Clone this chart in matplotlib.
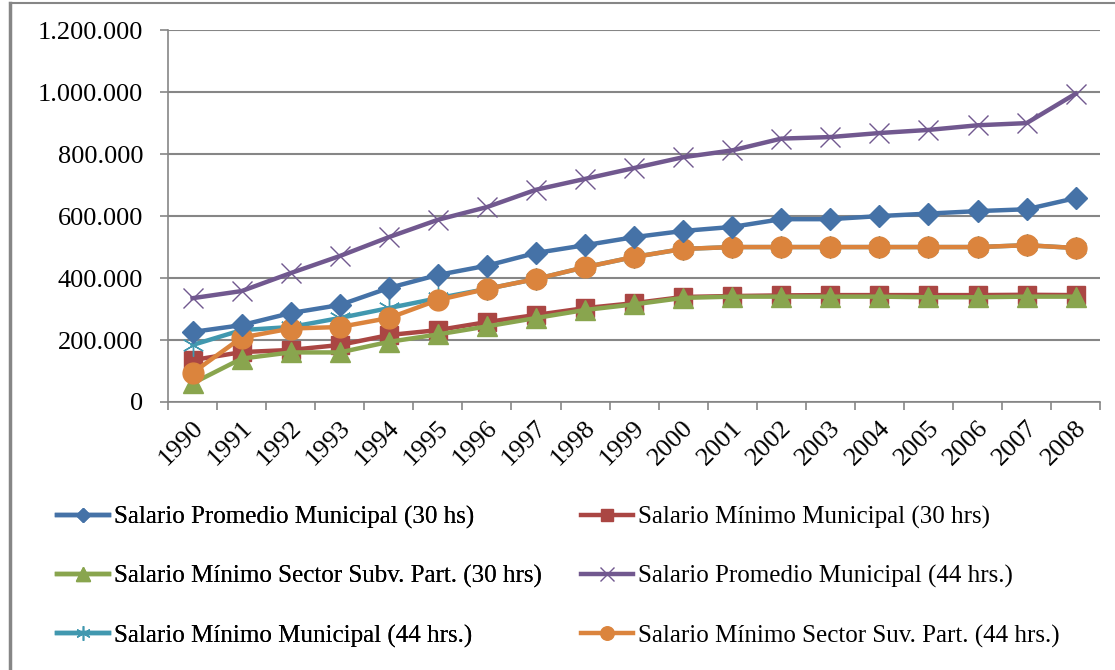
import matplotlib
matplotlib.use("Agg")
import matplotlib.pyplot as plt
from matplotlib.lines import Line2D
from matplotlib.ticker import FuncFormatter, FixedLocator
from matplotlib.transforms import ScaledTranslation

plt.rcParams['font.family'] = ['Liberation Serif', 'DejaVu Serif']

years = [str(y) for y in range(1990, 2009)]

prom_mun_30 = [226000, 248000, 287000, 313000, 368000, 410000, 440000, 481000, 506000, 532000,
               552000, 565000, 590000, 590000, 600000, 608000, 616000, 622000, 658000]
min_mun_30 = [135000, 161000, 168000, 184000, 216000, 232000, 258000, 281000, 303000, 319000,
              339000, 342000, 344000, 345000, 345000, 345000, 345000, 346000, 345000]
min_subv_30 = [60000, 140000, 160000, 160000, 194000, 218000, 244000, 271000, 297000, 315000,
               336000, 340000, 340000, 340000, 340000, 338000, 338000, 340000, 340000]
prom_mun_44 = [335000, 358000, 416000, 471000, 532000, 588000, 629000, 685000, 720000, 755000,
               790000, 812000, 850000, 855000, 868000, 878000, 893000, 900000, 995000]
min_mun_44 = [184000, 232000, 242000, 271000, 303000, 335000, 365000, 397000, 435000, 468000,
              494000, 500000, 500000, 500000, 500000, 500000, 500000, 506000, 497000]
min_suv_44 = [94000, 208000, 237000, 242000, 271000, 329000, 365000, 397000, 435000, 468000,
              494000, 500000, 500000, 500000, 500000, 500000, 500000, 506000, 497000]

labels = ["Salario Promedio Municipal (30 hs)",
          "Salario Mínimo Municipal (30 hrs)",
          "Salario Mínimo Sector Subv. Part. (30 hrs)",
          "Salario Promedio Municipal (44 hrs.)",
          "Salario Mínimo Municipal (44 hrs.)",
          "Salario Mínimo Sector Suv. Part. (44 hrs.)"]

fig = plt.figure(figsize=(11.15, 6.7), dpi=100)
ax = fig.add_axes([0.1507, 0.40, 0.836, 0.555])

x = list(range(len(years)))
lw = 3.2
h1, = ax.plot(x, prom_mun_30, color='#4572A7', lw=lw, marker='D', ms=11, zorder=5)
h2, = ax.plot(x, min_mun_30, color='#AA4643', lw=lw, marker='s', ms=13.5, zorder=3)
h3, = ax.plot(x, min_subv_30, color='#89A54E', lw=lw, marker='^', ms=15, zorder=4)
h4, = ax.plot(x, prom_mun_44, color='#71588F', lw=lw, marker='x', ms=15, mew=1, zorder=5)
h5, = ax.plot(x, min_mun_44, color='#4198AF', lw=lw, marker=(6, 2, 0), ms=16, mew=1, zorder=3)
h6, = ax.plot(x, min_suv_44, color='#DB843D', lw=lw, marker='o', ms=15, zorder=4)

ax.set_xlim(-0.5, len(years) - 0.5)
ax.set_ylim(0, 1200000)
ax.yaxis.set_major_locator(FixedLocator(range(0, 1200001, 200000)))
ax.yaxis.set_major_formatter(FuncFormatter(lambda v, p: f"{int(v):,}".replace(",", ".")))
ax.grid(axis='y', color='#868686', lw=1.5)
ax.set_axisbelow(True)

ax.set_xticks(x)
ax.set_xticklabels(years, rotation=45, ha='right', va='center', rotation_mode='anchor')
ax.set_xticks([i - 0.5 for i in range(len(years) + 1)], minor=True)
ax.tick_params(axis='x', which='major', length=0, pad=16, labelsize=19)
ax.tick_params(axis='x', which='minor', length=6, color='#868686', width=1.2)
ax.tick_params(axis='y', length=6, color='#868686', width=1.2, pad=12, labelsize=19)
shift = ScaledTranslation(0.07, 0, fig.dpi_scale_trans)
for t in ax.get_xticklabels():
    t.set_transform(t.get_transform() + shift)

for s in ['top', 'right']:
    ax.spines[s].set_visible(False)
for s in ['left', 'bottom']:
    ax.spines[s].set_color('#868686')
    ax.spines[s].set_linewidth(1.2)

handles = [h1, h2, h3, h4, h5, h6]
leg_kw = dict(frameon=False, loc='upper left', fontsize=18, handlelength=2.1,
              handletextpad=0.2, labelspacing=1.45, borderpad=0, borderaxespad=0,
              markerscale=0.65)
leg1 = fig.legend(handles[0::2], labels[0::2], bbox_to_anchor=(0.051, 0.245), **leg_kw)
fig.legend(handles[1::2], labels[1::2], bbox_to_anchor=(0.521, 0.245), **leg_kw)
fig.add_artist(leg1)

# frame of the pasted picture: only left and top edges show
fig.add_artist(Line2D([0.009, 0.009], [0, 0.996], transform=fig.transFigure,
                      color='#868686', lw=2.5))
fig.add_artist(Line2D([0.009, 1.0], [0.996, 0.996], transform=fig.transFigure,
                      color='#868686', lw=1.5))

fig.savefig("out.png", dpi=100)
